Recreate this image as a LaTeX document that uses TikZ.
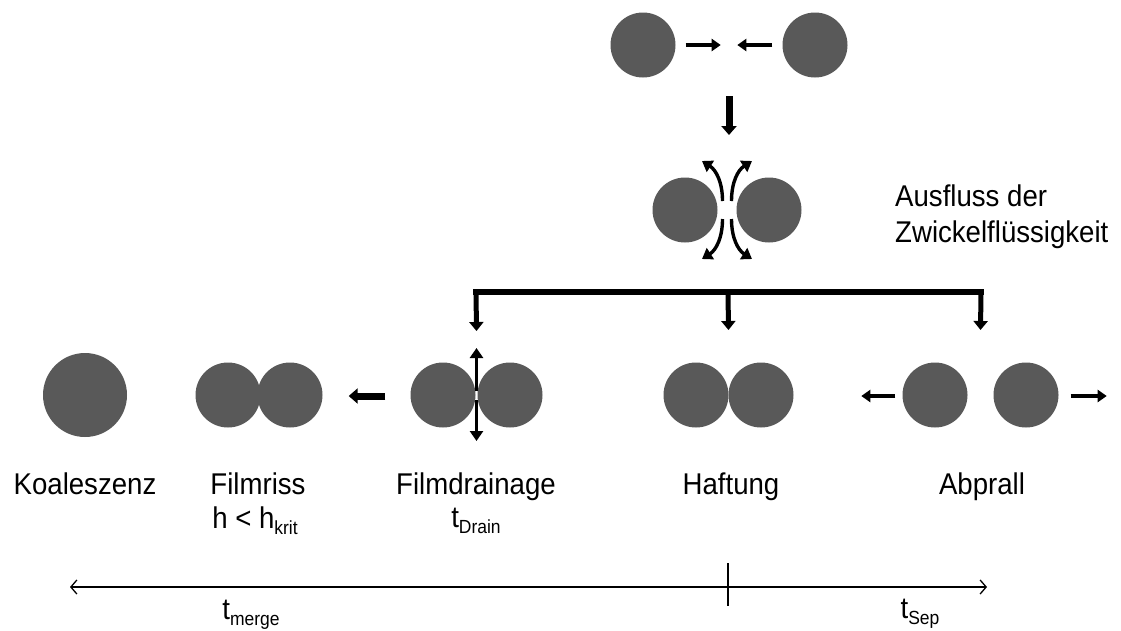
\documentclass[tikz,border=0pt]{standalone}
\usepackage{fontspec}
\setmainfont{Liberation Sans}[FakeStretch=0.92]
\usetikzlibrary{arrows.meta,calc}
\definecolor{dropgray}{RGB}{89,89,89}
\newcommand\lowidx[1]{\raisebox{-6pt}{\fontsize{19}{21}\selectfont #1}}

\begin{document}
\begin{tikzpicture}[
    x=1pt, y=-1pt,
    every node/.style={font=\fontsize{30}{34}\selectfont, inner sep=0pt},
    drop/.style={circle, fill=dropgray, inner sep=0pt, minimum size=65pt},
    bigdrop/.style={drop, minimum size=84pt},
    push/.style={line width=4pt, -{Triangle[length=9pt,width=12pt]}},
    fat/.style={line width=7pt, -{Triangle[length=9pt,width=15pt]}},
    bar/.style={line width=6pt, line cap=rect},
    drip/.style={line width=5pt, -{Triangle[length=9pt,width=14pt]}},
    flow/.style={line width=3.4pt, -{Triangle[length=10pt,width=13pt]}},
    axis/.style={line width=1.3pt,
      {Straight Barb[length=6pt,width=14pt]}-{Straight Barb[length=6pt,width=14pt]}},
    lbl/.style={anchor=base, align=center},
  ]
\useasboundingbox (0,0) rectangle (1121,630);

% --- row y-positions
\def\rTop{45}
\def\rMid{210}
\def\rBot{395}
\def\rBar{292}

% Top: two droplets moving together
\node[drop] (ta) at (643,\rTop) {};
\node[drop] (tb) at (815,\rTop) {};
\draw[push] ($(ta.east)+(10,0)$) -- ($(ta.east)+(45,0)$);
\draw[push] ($(tb.west)+(-10,0)$) -- ($(tb.west)+(-45,0)$);
\coordinate (tmid) at ($(ta)!0.5!(tb)$);
\draw[fat] ($(tmid)+(0,51)$) -- ($(tmid)+(0,90)$);

% Middle: outflow of the gap liquid
\node[drop] (ma) at (685,\rMid) {};
\node[drop] (mb) at (769,\rMid) {};
\coordinate (gap) at ($(ma)!0.5!(mb)$);
\foreach \sx in {-1,1}
  \foreach \sy in {-1,1}
    \draw[flow] ($(gap)+(\sx*4.5,\sy*9)$)
      .. controls ($(gap)+(\sx*4.5,\sy*28)$) and ($(gap)+(\sx*11,\sy*40)$)
      .. ($(gap)+(\sx*25,\sy*49)$);
\node[anchor=base west] (ausA) at (895,206) {Ausfluss der};
\node[anchor=base west] (ausB) at (895,242) {Zwickelflüssigkeit};

% Bracket to the three outcomes
\coordinate (bl) at (476,\rBar);
\coordinate (bm) at (728,\rBar);
\coordinate (br) at (981,\rBar);
\draw[bar] (bl) -- (br);

% Bottom row
\node[bigdrop] (koal) at (85,\rBot) {};
\node[drop] (fra) at (228,\rBot) {};
\node[drop] (frb) at (290,\rBot) {};
\node[drop] (fda) at (443,\rBot) {};
\node[drop] (fdb) at (510,\rBot) {};
\node[drop] (hfa) at (696,\rBot) {};
\node[drop] (hfb) at (761,\rBot) {};
\node[drop] (apa) at (935,\rBot) {};
\node[drop] (apb) at (1026,\rBot) {};

\draw[drip] (bl) -- ($(fda)!0.5!(fdb)+(0,-64)$);
\draw[drip] (bm) -- ($(hfa)!0.5!(hfb)+(0,-65)$);
\draw[drip] (br) -- ($(apa)!0.5!(apb)+(0,-65)$);

\draw[fat] ($(fda.west)+(-25,1)$) -- ($(frb.east)+(26,1)$);
\coordinate (fdm) at ($(fda)!0.5!(fdb)$);
\draw[flow] ($(fdm)+(0,-4)$) -- ($(fdm)+(0,-47)$);
\draw[flow] ($(fdm)+(0,5)$) -- ($(fdm)+(0,46)$);
\draw[push] ($(apa.west)+(-7,1)$) -- ($(apa.west)+(-41,1)$);
\draw[push] ($(apb.east)+(12,1)$) -- ($(apb.east)+(48,1)$);

% Labels
\node[lbl] (lkoal) at (85,494) {Koaleszenz};
\node[lbl] (lfr) at (258,494) {Filmriss};
\node[lbl] (lfr2) at (255,528) {h < h\lowidx{krit}};
\node[lbl] (lfd) at (476,494) {Filmdrainage};
\node[lbl] (lfd2) at (476,527) {t\lowidx{Drain}};
\node[lbl] (lhf) at (731,494) {Haftung};
\node[lbl] (lap) at (982,494) {Abprall};

% Time axis
\coordinate (axl) at (70,587);
\coordinate (axr) at (987,587);
\coordinate (tick) at (728,587);
\draw[axis] (axl) -- (axr);
\draw[line width=1.3pt] ($(tick)+(0,-24)$) -- ($(tick)+(0,19)$);
\node[lbl] (tmerge) at (251,619) {t\lowidx{merge}};
\node[lbl] (tsep) at (920,618) {t\lowidx{Sep}};
\end{tikzpicture}
\end{document}
